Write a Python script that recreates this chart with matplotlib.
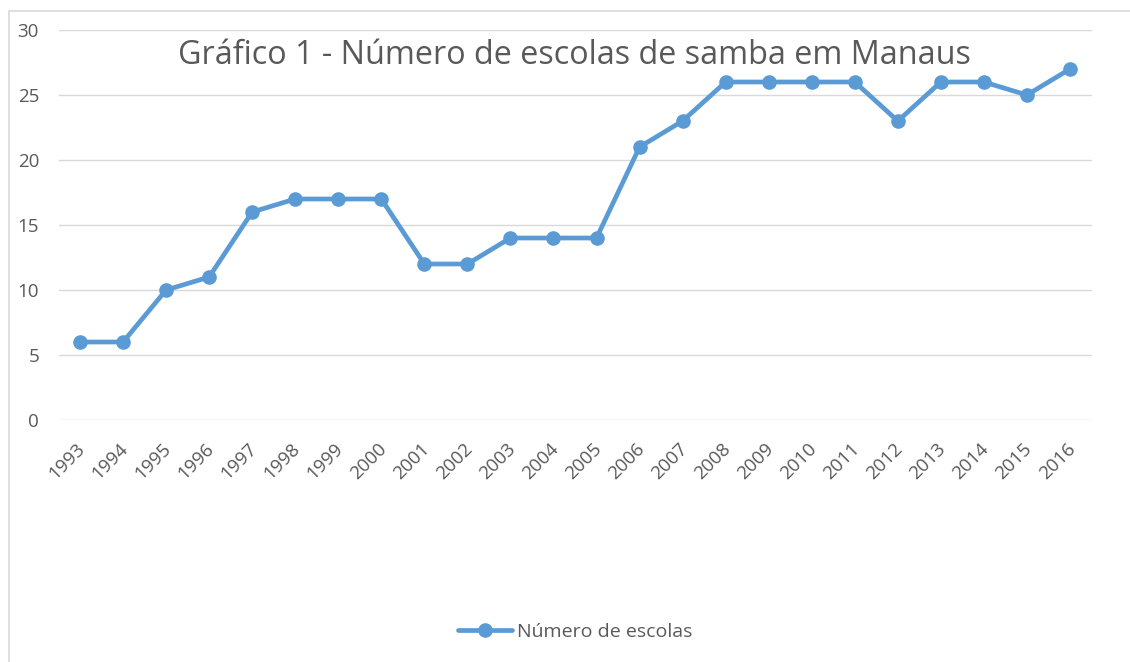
import matplotlib
matplotlib.use("Agg")
import matplotlib.pyplot as plt
from matplotlib.patches import Rectangle
from matplotlib.transforms import ScaledTranslation

years = [str(y) for y in range(1993, 2017)]
escolas = [6, 6, 10, 11, 16, 17, 17, 17, 12, 12, 14, 14, 14, 21, 23, 26, 26, 26, 26, 23, 26, 26, 25, 27]
title = "Gráfico 1 - Número de escolas de samba em Manaus"
series_name = "Número de escolas"

plt.rcParams['font.family'] = ['Open Sans', 'DejaVu Sans']

W, H = 1130, 662
fig = plt.figure(figsize=(W / 100, H / 100), dpi=100)
fig.patch.set_facecolor('white')

# outer chart border (top and left visible)
fig.patches.append(Rectangle((9 / W, -0.05), 1.2, 1 - 11 / H + 0.05,
                             transform=fig.transFigure, fill=False,
                             edgecolor='#D9D9D9', linewidth=1.2))

ax = fig.add_axes([58.5 / W, 1 - 420 / H, (1091.5 - 58.5) / W, (420 - 30) / H])
x = list(range(len(years)))
line_color = '#5B9BD5'
ax.plot(x, escolas, color=line_color, linewidth=3.4, marker='o', markersize=9.5,
        label=series_name, solid_capstyle='round', zorder=3)

ax.set_xlim(-0.5, len(years) - 0.5)
ax.set_ylim(0, 30)
ax.set_yticks(range(0, 31, 5))
ax.set_xticks(x)
ax.set_xticklabels(years, rotation=45, ha='right', rotation_mode='anchor')
ax.tick_params(axis='both', length=0, colors='#595959', labelsize=13.5)
ax.tick_params(axis='y', pad=14)
ax.tick_params(axis='x', pad=14)
offset = ScaledTranslation(-4 / 100, 0, fig.dpi_scale_trans)
for lab in ax.get_xticklabels():
    lab.set_transform(lab.get_transform() + offset)
for lab in ax.get_yticklabels():
    lab.set_horizontalalignment('right')
ax.grid(axis='y', color='#D9D9D9', linewidth=1)
ax.set_axisbelow(True)
for s in ax.spines.values():
    s.set_visible(False)
ax.set_facecolor('none')

fig.text(574 / W, 1 - 55 / H, title, ha='center', va='center',
         fontsize=23.3, color='#595959')

fig.legend(loc='center', bbox_to_anchor=(575 / W, 1 - 632 / H), frameon=False,
           fontsize=14, labelcolor='#595959', handlelength=2.8, handletextpad=0.25)

fig.savefig('out.png', dpi=100)
